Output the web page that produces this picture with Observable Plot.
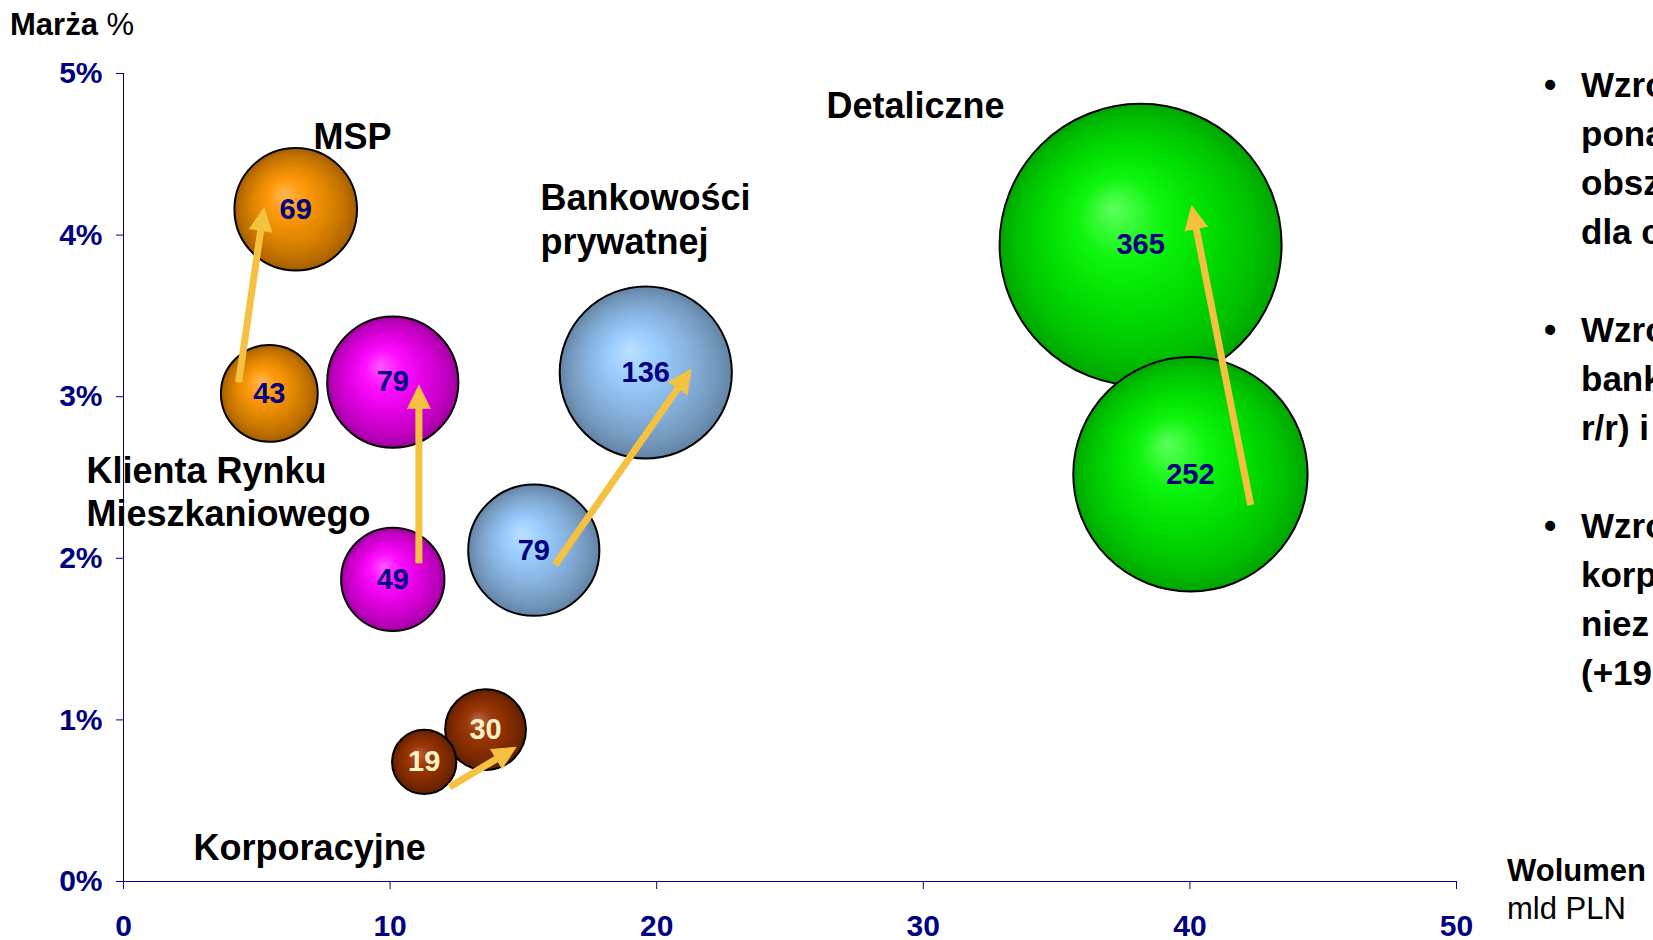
<!DOCTYPE html>
<html>
<head>
<meta charset="utf-8">
<script src="https://cdn.jsdelivr.net/npm/d3@7"></script>
<script src="https://cdn.jsdelivr.net/npm/@observablehq/plot@0.6"></script>
<style>
  html, body { margin: 0; padding: 0; background: #fff; overflow: hidden; }
  #wrap { position: relative; width: 1653px; height: 940px; overflow: hidden;
          font-family: "Liberation Sans", Arial, sans-serif; color: #000; }
  #chart { position: absolute; left: 0; top: 0; }
  .ov { position: absolute; white-space: nowrap; font-size: 31px; line-height: 36px; }
  .b { font-weight: bold; }
  #notes { position: absolute; left: 1550px; top: 60px; font-size: 35px; line-height: 49px;
           font-weight: bold; white-space: nowrap; }
  #notes .ln { position: relative; padding-left: 31px; height: 49px; }
  #notes .bul { position: absolute; left: -6px; top: 0; }
</style>
</head>
<body>
<svg width="0" height="0" style="position:absolute">
  <defs>
    <radialGradient id="g-msp" cx="50%" cy="50%" r="50%" fx="40%" fy="37%">
      <stop offset="0" stop-color="#FFB851"/><stop offset="0.3" stop-color="#FF9A0A"/>
      <stop offset="0.6" stop-color="#E08600"/><stop offset="0.85" stop-color="#C07000"/>
      <stop offset="1" stop-color="#A35E00"/>
    </radialGradient>
    <radialGradient id="g-krm" cx="50%" cy="50%" r="50%" fx="40%" fy="37%">
      <stop offset="0" stop-color="#FF55FF"/><stop offset="0.3" stop-color="#FF0DFF"/>
      <stop offset="0.6" stop-color="#E000E0"/><stop offset="0.85" stop-color="#C000C0"/>
      <stop offset="1" stop-color="#A000A0"/>
    </radialGradient>
    <radialGradient id="g-bp" cx="50%" cy="50%" r="50%" fx="40%" fy="37%">
      <stop offset="0" stop-color="#BCDFFF"/><stop offset="0.3" stop-color="#99CCFF"/>
      <stop offset="0.6" stop-color="#86B2DE"/><stop offset="0.85" stop-color="#7498BD"/>
      <stop offset="1" stop-color="#6283A5"/>
    </radialGradient>
    <radialGradient id="g-det" cx="50%" cy="50%" r="50%" fx="40%" fy="37%">
      <stop offset="0" stop-color="#5CFF5C"/><stop offset="0.3" stop-color="#0DF50D"/>
      <stop offset="0.6" stop-color="#00DC00"/><stop offset="0.85" stop-color="#00C000"/>
      <stop offset="1" stop-color="#00A500"/>
    </radialGradient>
    <radialGradient id="g-korp" cx="50%" cy="50%" r="50%" fx="40%" fy="37%">
      <stop offset="0" stop-color="#B5684A"/><stop offset="0.3" stop-color="#9E3A0A"/>
      <stop offset="0.6" stop-color="#8A2E00"/><stop offset="0.85" stop-color="#742600"/>
      <stop offset="1" stop-color="#5E1F00"/>
    </radialGradient>
  </defs>
</svg>
<div id="wrap">
  <div id="chart"></div>
  <div class="ov" style="left:10px;top:7px;"><span class="b">Marża</span> %</div>
  <div class="ov b" style="left:1507px;top:853px;">Wolumen</div>
  <div class="ov" style="left:1507px;top:891px;">mld PLN</div>
  <div id="notes"></div>
</div>
<script>
// ---- data ----
const bubbleSegment = ["msp", "msp", "krm", "krm", "bp", "bp", "det", "det", "korp", "korp"];
const bubbleVolume  = [6.46, 5.47, 10.10, 10.10, 19.59, 15.39, 38.15, 40.02, 13.58, 11.28]; // mld PLN
const bubbleMargin  = [4.16, 3.02, 3.09, 1.87, 3.15, 2.05, 3.94, 2.52, 0.94, 0.74];      // %
const bubbleSize    = [69, 43, 79, 49, 136, 79, 365, 252, 30, 19];

const arrowX1 = [4.32, 11.08, 16.19, 42.28, 12.23];
const arrowY1 = [3.09, 1.97, 1.96, 2.33, 0.585];
const arrowX2 = [5.27, 11.08, 21.29, 40.07, 14.72];
const arrowY2 = [4.17, 3.07, 3.17, 4.18, 0.83];

const labelText = ["MSP", "Bankowości\nprywatnej", "Detaliczne", "Klienta Rynku\nMieszkaniowego", "Korporacyjne"];
const labelX = [7.13, 15.64, 26.37, -1.39, 2.63];
const labelY = [4.62, 4.107, 4.81, 2.42, 0.223];

const xTicks = [0, 10, 20, 30, 40, 50];
const yTicks = [0, 1, 2, 3, 4, 5];

const notes = [["Wzro", "pona", "obsz", "dla c"], ["Wzro", "bank", "r/r) i"], ["Wzro", "korp", "niez", "(+19"]];

// ---- tables ----
const bubbles = bubbleSize.map((s, i) => ({seg: bubbleSegment[i], x: bubbleVolume[i], y: bubbleMargin[i], size: s}));
const arrows = arrowX1.map((_, i) => ({x1: arrowX1[i], y1: arrowY1[i], x2: arrowX2[i], y2: arrowY2[i]}));
const labels = labelText.map((t, i) => ({t, x: labelX[i], y: labelY[i]}));

const navy = "#000080";
const yellow = "#F5C141";
const font = "'Liberation Sans', Arial, sans-serif";

const plot = Plot.plot({
  width: 1653,
  height: 940,
  marginLeft: 123,
  marginRight: 197,
  marginTop: 73,
  marginBottom: 59,
  style: {fontFamily: font, background: "white", overflow: "visible"},
  x: {domain: [0, 50]},
  y: {domain: [0, 5]},
  r: {type: "sqrt", domain: [0, 365], range: [0, 141]},
  color: {type: "identity"},
  marks: [
    Plot.ruleX([0], {stroke: navy, strokeWidth: 1}),
    Plot.ruleY([0], {stroke: navy, strokeWidth: 1, insetLeft: -7}),
    Plot.axisY(yTicks, {tickSize: 7, tickPadding: 14, tickFormat: d => d + "%", fontSize: 30, fontWeight: "bold", color: navy, label: null}),
    Plot.axisX(xTicks, {tickSize: 8, tickPadding: 25, tickFormat: d => String(d), fontSize: 30, fontWeight: "bold", color: navy, label: null}),
    Plot.dot(bubbles, {x: "x", y: "y", r: "size", fill: d => `url(#g-${d.seg})`, stroke: "black", strokeWidth: 2}),
    Plot.text(bubbles, {x: "x", y: "y", text: d => String(d.size), fill: d => d.seg === "korp" ? "#FFF3C4" : navy, fontSize: 29, fontWeight: "bold"}),
    Plot.arrow(arrows, {x1: "x1", y1: "y1", x2: "x2", y2: "y2", stroke: yellow, strokeWidth: 7, headLength: 0, insetEnd: 14, strokeLinecap: "butt"}),
    Plot.arrow(arrows, {x1: "x1", y1: "y1", x2: "x2", y2: "y2", stroke: yellow, fill: yellow, strokeWidth: 1, headLength: 39, headAngle: 52, strokeLinejoin: "miter"}),
    Plot.text(labels, {x: "x", y: "y", text: "t", textAnchor: "start", lineAnchor: "middle", lineHeight: 1.22, fontSize: 36, fontWeight: "bold", fill: "black", clip: false})
  ]
});
document.getElementById("chart").appendChild(plot);

// right-side notes (cut off by the slide edge, as in the source slide)
const notesDiv = document.getElementById("notes");
notes.forEach((para, pi) => {
  if (pi > 0) { const blank = document.createElement("div"); blank.className = "ln"; notesDiv.appendChild(blank); }
  para.forEach((line, li) => {
    const d = document.createElement("div");
    d.className = "ln";
    if (li === 0) { const b = document.createElement("span"); b.className = "bul"; b.textContent = "•"; d.appendChild(b); }
    d.appendChild(document.createTextNode(line));
    notesDiv.appendChild(d);
  });
});
</script>
</body>
</html>
